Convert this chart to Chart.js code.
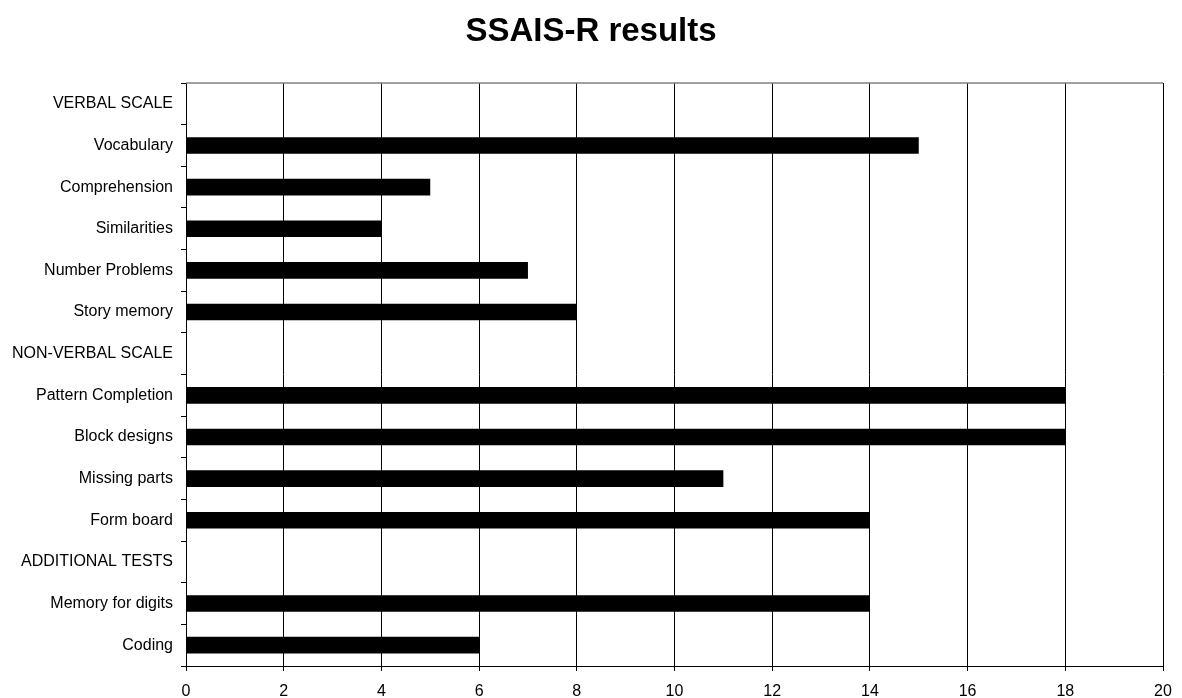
<!DOCTYPE html>
<html>
<head>
<meta charset="utf-8">
<title>SSAIS-R results</title>
<script src="https://cdn.jsdelivr.net/npm/chart.js@4/dist/chart.umd.min.js"></script>
<style>
  html, body { margin: 0; padding: 0; background: #ffffff; }
  #wrap { width: 1182px; height: 698px; }
</style>
</head>
<body>
<div id="wrap"><canvas id="chart" width="1182" height="698"></canvas></div>
<script>
// Subtest names (section headings carry no score)
const categories = [
  'VERBAL SCALE',
  'Vocabulary',
  'Comprehension',
  'Similarities',
  'Number Problems',
  'Story memory',
  'NON-VERBAL SCALE',
  'Pattern Completion',
  'Block designs',
  'Missing parts',
  'Form board',
  'ADDITIONAL TESTS',
  'Memory for digits',
  'Coding'
];

// Scaled scores per subtest
const scores = [null, 15, 5, 4, 7, 8, null, 18, 18, 11, 14, null, 14, 6];

// Score axis range
const scoreMin = 0;
const scoreMax = 20;
const scoreStep = 2;

const FONT = '"Liberation Sans", Arial, Helvetica, sans-serif';

// Draws the gray top edge of the plot frame
const frameTop = {
  id: 'frameTop',
  afterDraw(chart) {
    const { ctx, chartArea } = chart;
    ctx.save();
    ctx.strokeStyle = '#808080';
    ctx.lineWidth = 1.5;
    ctx.beginPath();
    ctx.moveTo(chartArea.left, chartArea.top);
    ctx.lineTo(chartArea.right, chartArea.top);
    ctx.stroke();
    ctx.restore();
  }
};

// Lets the long category labels use the full left margin
const wideLabels = {
  id: 'wideLabels',
  afterLayout(chart) {
    chart.scales.y.left = 0;
  }
};

new Chart(document.getElementById('chart'), {
  type: 'bar',
  data: {
    labels: categories,
    datasets: [{
      data: scores,
      backgroundColor: '#000000',
      borderWidth: 0,
      categoryPercentage: 0.8,
      barPercentage: 0.5
    }]
  },
  options: {
    indexAxis: 'y',
    responsive: false,
    animation: false,
    layout: { padding: { left: 19, right: 19, top: 0, bottom: 0 } },
    plugins: {
      legend: { display: false },
      tooltip: { enabled: false },
      title: {
        display: true,
        text: 'SSAIS-R results',
        color: '#000000',
        font: { family: FONT, size: 33, weight: 'bold' },
        padding: { top: 12, bottom: 31.4 }
      }
    },
    scales: {
      x: {
        type: 'linear',
        min: scoreMin,
        max: scoreMax,
        ticks: {
          stepSize: scoreStep,
          color: '#000000',
          font: { family: FONT, size: 16 },
          padding: 11
        },
        grid: {
          color: '#000000',
          lineWidth: 1,
          tickLength: 5,
          drawOnChartArea: true
        },
        border: { color: '#000000', width: 1 },
        afterFit(scale) {
          scale.height = 32;
          scale.paddingLeft = 0;
          scale.paddingRight = 0;
        }
      },
      y: {
        type: 'category',
        offset: true,
        ticks: {
          color: '#000000',
          font: { family: FONT, size: 16 },
          padding: 8,
          autoSkip: false
        },
        grid: {
          offset: true,
          color: '#000000',
          lineWidth: 1,
          tickLength: 5,
          drawOnChartArea: false
        },
        border: { color: '#000000', width: 1 },
        afterFit(scale) { scale.width = 167; }
      }
    }
  },
  plugins: [frameTop, wideLabels]
});
</script>
</body>
</html>
